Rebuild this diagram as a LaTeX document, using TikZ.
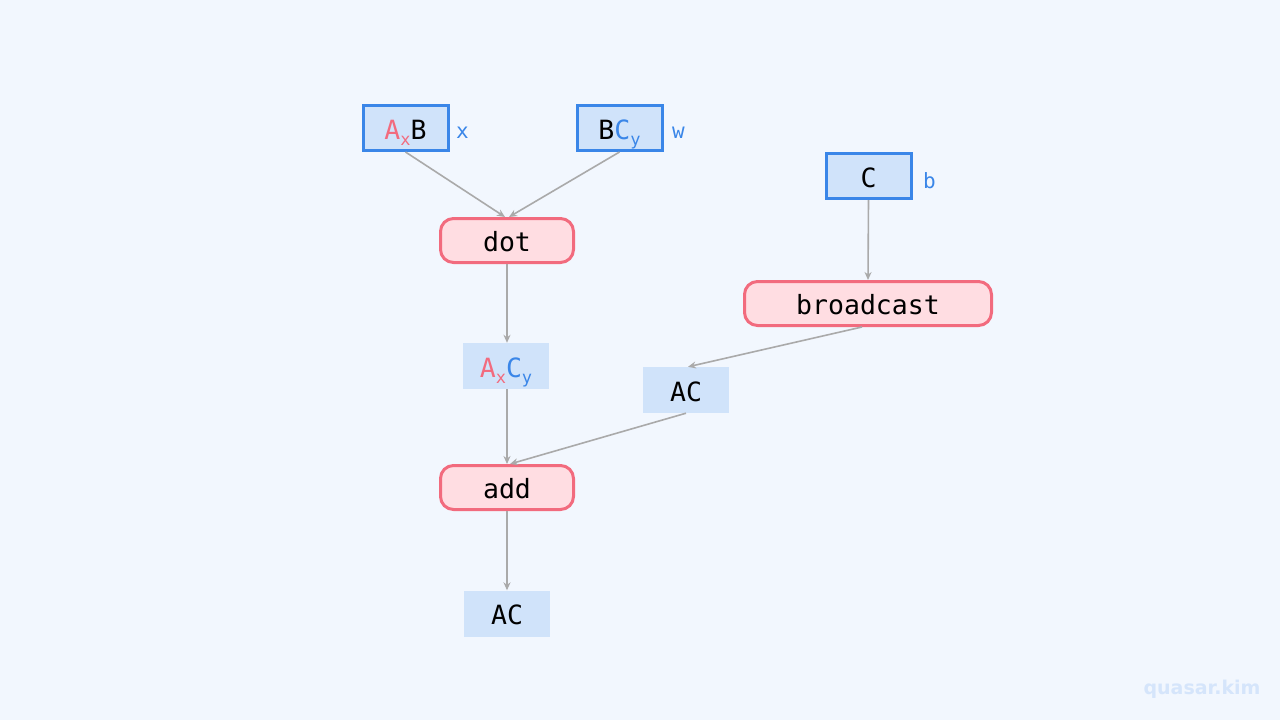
\documentclass[tikz,border=0pt]{standalone}
\usepackage{fontspec}
\setmonofont{DejaVu Sans Mono}
\newfontfamily\wmfont{DejaVu Sans}
\usetikzlibrary{arrows.meta}
\definecolor{bgc}{HTML}{F2F7FE}
\definecolor{inblue}{HTML}{D0E3FA}
\definecolor{edblue}{HTML}{3A86E8}
\definecolor{opfill}{HTML}{FFDDE2}
\definecolor{opedge}{HTML}{F26B7E}
\definecolor{edgegray}{HTML}{AAAAAA}
\definecolor{wmc}{HTML}{D5E5FB}
\tikzset{
  txt/.style={font=\ttfamily\fontsize{26.5}{28}\selectfont, text=black},
  inbox/.style={txt, draw=edblue, line width=3pt, fill=inblue, minimum width=85pt, minimum height=45pt, inner sep=0pt, text depth=0pt, text height=22pt},
  opbox/.style={txt, draw=opedge, line width=3pt, fill=opfill, rounded corners=13pt, minimum height=44pt, inner sep=0pt, text depth=0pt, text height=22pt},
  tbox/.style={txt, fill=inblue, minimum width=86pt, minimum height=46pt, inner sep=0pt, text depth=0pt, text height=22pt},
  lbl/.style={font=\ttfamily\fontsize{21}{24}\selectfont, text=edblue, anchor=west, inner sep=0pt},
  conn/.style={draw=edgegray, line width=1.6pt, -{Stealth[length=8pt,width=7pt]}},
}
\newcommand{\rA}{\textcolor{opedge}{A\raisebox{-6pt}{\fontsize{17}{18}\selectfont x}}}
\newcommand{\bC}{\textcolor{edblue}{C\raisebox{-6pt}{\fontsize{17}{18}\selectfont y}}}
\begin{document}
\begin{tikzpicture}[x=1pt,y=-1pt]
\fill[bgc] (0,0) rectangle (1280,720);
\useasboundingbox (0,0) rectangle (1280,720);
\node[inbox] (axb) at (405.5,128) {\rA B};
\node[lbl] (lx) at (456,133) {x};
\node[inbox] (bcy) at (619.5,128) {B\bC};
\node[lbl] (lw) at (672,133) {w};
\node[inbox] (c) at (868.5,176) {C};
\node[lbl] (lb) at (923,181) {b};
\node[opbox, minimum width=133pt] (dot) at (507,240.5) {dot};
\node[opbox, minimum width=247pt] (bc) at (868,303.5) {broadcast};
\node[tbox] (axcy) at (506,366) {\rA\bC};
\node[tbox] (ac1) at (686,390) {AC};
\node[opbox, minimum width=133pt] (add) at (507,487.5) {add};
\node[tbox] (ac2) at (507,613.5) {AC};
\node[font=\wmfont\bfseries\fontsize{19}{22}\selectfont, text=wmc] (wm) at (1202,689) {quasar.kim};
\draw[conn] (axb.south) -- ([xshift=-2pt]dot.north);
\draw[conn] (bcy.south) -- ([xshift=2pt]dot.north);
\draw[conn] (c.south) -- (bc.north);
\draw[conn] ([xshift=-6pt]bc.south) -- ([xshift=2pt]ac1.north);
\draw[conn] (dot.south) -- (axcy.north -| dot.south);
\draw[conn] (axcy.south -| dot.south) -- (add.north);
\draw[conn] (ac1.south) -- ([xshift=3pt]add.north);
\draw[conn] (add.south) -- (ac2.north);
\end{tikzpicture}
\end{document}
